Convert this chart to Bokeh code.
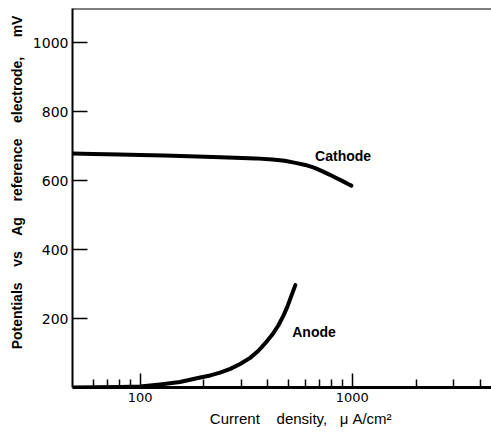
from bokeh.plotting import figure
from bokeh.models import FixedTicker, Label, Span, PrintfTickFormatter, Range1d
from bokeh.embed import file_html
from bokeh.resources import INLINE

# ---- data ----
cathode_x = [48, 60, 80, 100, 130, 170, 220, 280, 350, 420, 480, 540, 600, 660,
             720, 780, 840, 900, 960, 990]
cathode_y = [679, 678, 676, 675, 673, 671, 669, 667, 665, 662, 658, 652, 646, 638,
             628, 618, 608, 599, 590, 586]

anode_x = [48, 80, 100, 124, 154, 192, 214, 238, 266, 296, 330, 360, 388, 419,
           448, 473, 494, 516, 539]
anode_y = [0, 1.5, 3, 9, 16, 29, 35, 43, 54, 68, 86, 106, 128, 153,
           180, 208, 234, 266, 297]

x_major_ticks = [100, 1000]
x_minor_ticks = [60, 70, 80, 90, 200, 300, 400, 500, 600, 700, 800, 900, 2000, 3000, 4000]
y_ticks = [200, 400, 600, 800, 1000]

NB = "\u00a0"
x_title = NB * 9 + "Current" + NB * 4 + "density," + NB * 3 + "\u03bc A/cm\u00b2"
y_title = (NB * 8 + "Potentials" + NB * 4 + "vs" + NB * 4 + "Ag" + NB * 4 + "reference"
           + NB * 4 + "electrode," + NB * 5 + "mV")
curve_names = ["Cathode", "Anode"]

X_MIN, X_MAX = 48, 4530
Y_MIN, Y_MAX = 0, 1100

p = figure(width=491, height=432, x_axis_type="log",
           x_range=Range1d(X_MIN, X_MAX), y_range=Range1d(Y_MIN, Y_MAX),
           output_backend="svg", toolbar_location=None,
           min_border_left=72, min_border_right=0, min_border_top=8, min_border_bottom=45)
p.outline_line_color = None
p.xgrid.visible = False
p.ygrid.visible = False
p.background_fill_color = "white"
p.border_fill_color = "white"

# curves
p.line(cathode_x, cathode_y, line_color="black", line_width=4, line_cap="round",
       line_join="round")
p.line(anode_x, anode_y, line_color="black", line_width=4, line_cap="round",
       line_join="round")

# top border
p.add_layout(Span(location=Y_MAX, dimension="width", line_color="black", line_width=2))

# x axis
xa = p.xaxis[0]
xa.ticker = FixedTicker(ticks=x_major_ticks, minor_ticks=x_minor_ticks)
xa.formatter = PrintfTickFormatter(format="%d")
xa.axis_line_width = 3
xa.major_tick_in = 14
xa.major_tick_out = 0
xa.minor_tick_in = 8
xa.minor_tick_out = 0
xa.major_tick_line_width = 1.5
xa.minor_tick_line_width = 1.5
xa.major_label_standoff = 5
xa.major_label_text_font = "DejaVu Sans"
xa.major_label_text_font_size = "13px"
xa.major_label_text_color = "black"
xa.axis_label = x_title
xa.axis_label_text_font = "Liberation Sans"
xa.axis_label_text_font_style = "normal"
xa.axis_label_text_font_size = "15px"
xa.axis_label_text_color = "black"
xa.axis_label_standoff = 5

# y axis
ya = p.yaxis[0]
ya.ticker = FixedTicker(ticks=y_ticks, minor_ticks=[])
ya.axis_line_width = 2
ya.major_tick_in = 15
ya.major_tick_out = 0
ya.minor_tick_in = 0
ya.minor_tick_out = 0
ya.major_tick_line_width = 1.5
ya.major_label_standoff = 4
ya.major_label_text_font = "DejaVu Sans"
ya.major_label_text_font_size = "14px"
ya.major_label_text_color = "black"
ya.axis_label = y_title
ya.axis_label_text_font = "Liberation Sans"
ya.axis_label_text_font_style = "bold"
ya.axis_label_text_font_size = "14px"
ya.axis_label_text_color = "black"
ya.axis_label_standoff = 5

# curve labels
p.add_layout(Label(x=668, y=672, text=curve_names[0], text_font="Liberation Sans",
                   text_font_style="bold", text_font_size="14px",
                   text_align="left", text_baseline="middle", text_color="black"))
p.add_layout(Label(x=521, y=162, text=curve_names[1], text_font="Liberation Sans",
                   text_font_style="bold", text_font_size="14px",
                   text_align="left", text_baseline="middle", text_color="black"))

open("out.html", "w").write(file_html(p, INLINE))
